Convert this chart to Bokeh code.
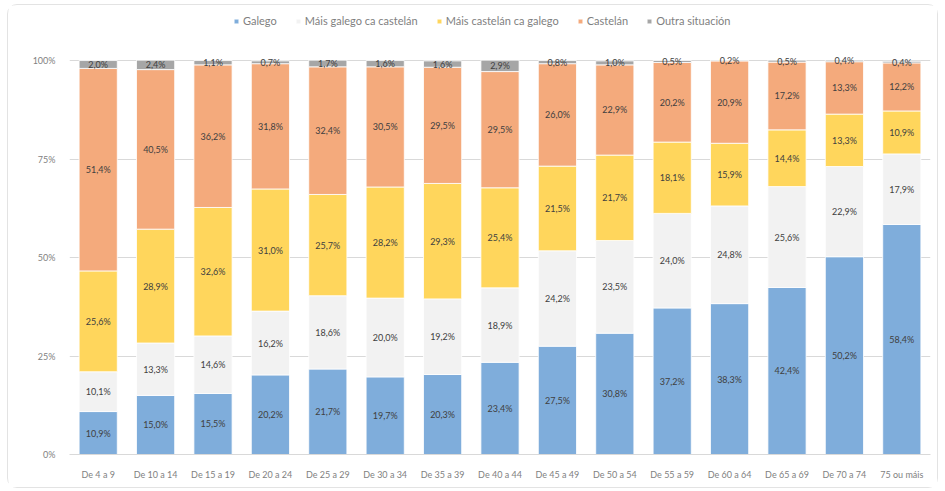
from bokeh.plotting import figure
from bokeh.models import ColumnDataSource, Legend, LegendItem, Range1d, FixedTicker, CustomJSTickFormatter
from bokeh.core.properties import value
from bokeh.embed import file_html
from bokeh.resources import INLINE

categories = ["De 4 a 9", "De 10 a 14", "De 15 a 19", "De 20 a 24", "De 25 a 29",
              "De 30 a 34", "De 35 a 39", "De 40 a 44", "De 45 a 49", "De 50 a 54",
              "De 55 a 59", "De 60 a 64", "De 65 a 69", "De 70 a 74", "75 ou máis"]
series_names = ["Galego", "Máis galego ca castelán", "Máis castelán ca galego", "Castelán", "Outra situación"]
galego = [10.9, 15.0, 15.5, 20.2, 21.7, 19.7, 20.3, 23.4, 27.5, 30.8, 37.2, 38.3, 42.4, 50.2, 58.4]
mais_galego = [10.1, 13.3, 14.6, 16.2, 18.6, 20.0, 19.2, 18.9, 24.2, 23.5, 24.0, 24.8, 25.6, 22.9, 17.9]
mais_castelan = [25.6, 28.9, 32.6, 31.0, 25.7, 28.2, 29.3, 25.4, 21.5, 21.7, 18.1, 15.9, 14.4, 13.3, 10.9]
castelan = [51.4, 40.5, 36.2, 31.8, 32.4, 30.5, 29.5, 29.5, 26.0, 22.9, 20.2, 20.9, 17.2, 13.3, 12.2]
outra = [2.0, 2.4, 1.1, 0.7, 1.7, 1.6, 1.6, 2.9, 0.8, 1.0, 0.5, 0.2, 0.5, 0.4, 0.4]
y_ticks = [0, 25, 50, 75, 100]

colors = ["#7FADDB", "#F2F2F2", "#FFD65C", "#F4AA7C", "#A6A6A6"]
keys = ["galego", "mais_galego", "mais_castelan", "castelan", "outra"]
series = [galego, mais_galego, mais_castelan, castelan, outra]

data = {"cat": categories}
for k, s in zip(keys, series):
    data[k] = s
source = ColumnDataSource(data)

p = figure(x_range=categories, y_range=Range1d(0, 112.7), width=931, height=484,
           output_backend="svg", toolbar_location=None,
           min_border_left=61, min_border_right=9, min_border_top=5, min_border_bottom=35)
p.outline_line_color = None
p.background_fill_color = "white"
p.border_fill_color = "white"

renderers = p.vbar_stack(keys, x="cat", width=0.665, color=colors, source=source,
                         line_color="white", line_width=0.8)

font = value("Lato")
for i, (k, s) in enumerate(zip(keys, series)):
    base = [sum(series[j][c] for j in range(i)) for c in range(len(categories))]
    mids = [b + v / 2 for b, v in zip(base, s)]
    txt = [("%.1f" % v).replace(".", ",") + "%" for v in s]
    src = ColumnDataSource(dict(x=categories, y=mids, t=txt))
    p.text(x="x", y="y", text="t", source=src, text_align="center", text_baseline="middle",
           text_font=font, text_font_size="9px", text_color="#404040")

p.xgrid.grid_line_color = None
p.ygrid.grid_line_color = "#D9D9D9"
p.ygrid.grid_line_width = 1
p.yaxis.ticker = FixedTicker(ticks=y_ticks)
p.yaxis.formatter = CustomJSTickFormatter(code="return tick.toFixed(0) + '%';")
p.yaxis.axis_line_color = None
p.yaxis.major_tick_line_color = None
p.yaxis.minor_tick_line_color = None
p.yaxis.major_label_text_font = "Lato"
p.yaxis.major_label_text_font_size = "9px"
p.yaxis.major_label_text_color = "#7F7F7F"
p.yaxis.major_label_standoff = 8

p.xaxis.axis_line_color = "#D9D9D9"
p.xaxis.major_tick_line_color = None
p.xaxis.minor_tick_line_color = None
p.xaxis.major_label_text_font = "Lato"
p.xaxis.major_label_text_font_size = "9px"
p.xaxis.major_label_text_color = "#7F7F7F"
p.xaxis.major_label_standoff = 8
p.x_range.range_padding = 0

items = [LegendItem(label=n, renderers=[r]) for n, r in zip(series_names, renderers)]
legend = Legend(items=items, orientation="horizontal", location=(164, 427),
                glyph_width=6, glyph_height=6, label_text_font="Lato",
                label_text_font_size="11px", label_text_color="#7F7F7F",
                spacing=18, padding=0, margin=0, border_line_color=None,
                background_fill_alpha=0, label_standoff=4, label_height=12)
p.add_layout(legend, "center")
p.styles = {"margin-left": "7px", "margin-top": "4px",
            "border": "1px solid #E3E3E3", "border-radius": "10px"}

open("out.html", "w").write(file_html(p, INLINE))
